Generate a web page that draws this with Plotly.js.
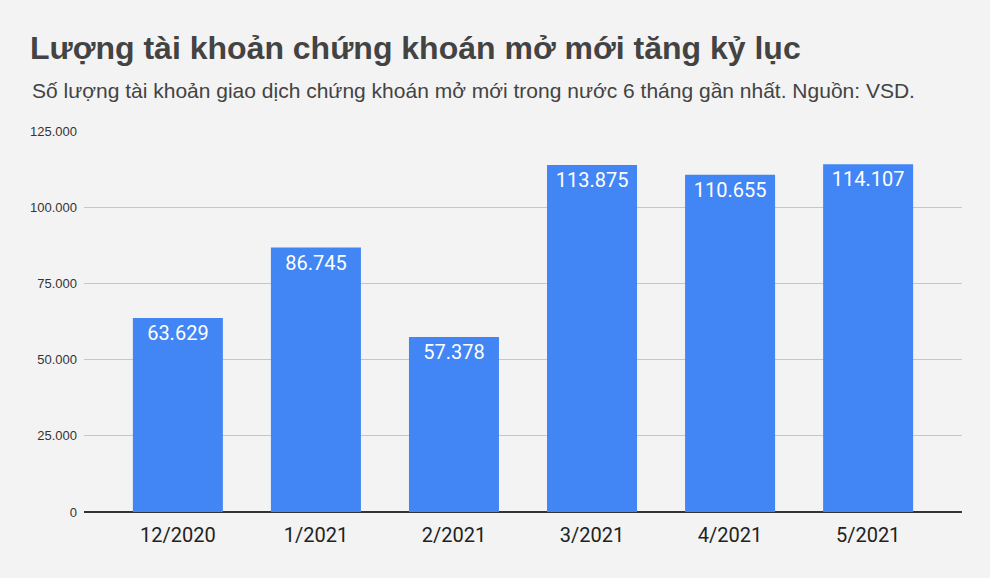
<!DOCTYPE html>
<html>
<head>
<meta charset="utf-8">
<script src="https://cdn.plot.ly/plotly-3.0.1.min.js"></script>
<style>
  html, body { margin: 0; padding: 0; background: #f3f3f3; }
  #chart { width: 990px; height: 578px; }
</style>
</head>
<body>
<div id="chart"></div>
<script>
// số tài khoản mở mới theo tháng (VSD)
const months = ["12/2020", "1/2021", "2/2021", "3/2021", "4/2021", "5/2021"];
const accounts = [63629, 86745, 57378, 113875, 110655, 114107];
const yTicks = [0, 25000, 50000, 75000, 100000, 125000];

const trace = {
  type: "bar",
  x: months,
  y: accounts,
  marker: { color: "#4285f4" },
  width: 0.652,
  texttemplate: "%{y:,d}",
  textposition: "inside",
  insidetextanchor: "end",
  textangle: 0,
  insidetextfont: { family: "Roboto, sans-serif", size: 20, color: "#ffffff" },
  hoverinfo: "x+y"
};

const layout = {
  width: 990,
  height: 578,
  separators: ",.",
  paper_bgcolor: "#f3f3f3",
  plot_bgcolor: "#f3f3f3",
  margin: { l: 84, r: 28, t: 131, b: 66 },
  showlegend: false,
  title: {
    text: "<b>Lượng tài khoản chứng khoán mở mới tăng kỷ lục</b>",
    font: { family: "Liberation Sans, Arial, sans-serif", size: 32, color: "#434343" },
    xref: "container", yref: "container",
    x: 30 / 990, xanchor: "left",
    y: 1 - 48 / 578, yanchor: "middle"
  },
  annotations: [{
    text: "Số lượng tài khoản giao dịch chứng khoán mở mới trong nước 6 tháng gần nhất. Nguồn: VSD.",
    xref: "paper", yref: "paper",
    x: -54 / 878, xanchor: "left",
    y: 1 + 40 / 381, yanchor: "middle",
    showarrow: false,
    font: { family: "Liberation Sans, Arial, sans-serif", size: 21, color: "#434343" }
  }],
  xaxis: {
    type: "category",
    range: [-0.68, 5.68],
    showgrid: false,
    showline: false,
    ticks: "",
    tickfont: { family: "Roboto, sans-serif", size: 20, color: "#222222" },
    ticklabelstandoff: 9
  },
  yaxis: {
    range: [0, 125000],
    tickvals: yTicks,
    tickformat: ",d",
    gridcolor: "#c6c6c6",
    gridwidth: 1,
    zeroline: true,
    zerolinecolor: "#333333",
    zerolinewidth: 1.5,
    showline: false,
    ticks: "",
    ticklabelstandoff: 6,
    tickfont: { family: "Liberation Sans, Arial, sans-serif", size: 13, color: "#333333" }
  }
};

Plotly.newPlot("chart", [trace], layout, { displayModeBar: false, staticPlot: true });
</script>
</body>
</html>
